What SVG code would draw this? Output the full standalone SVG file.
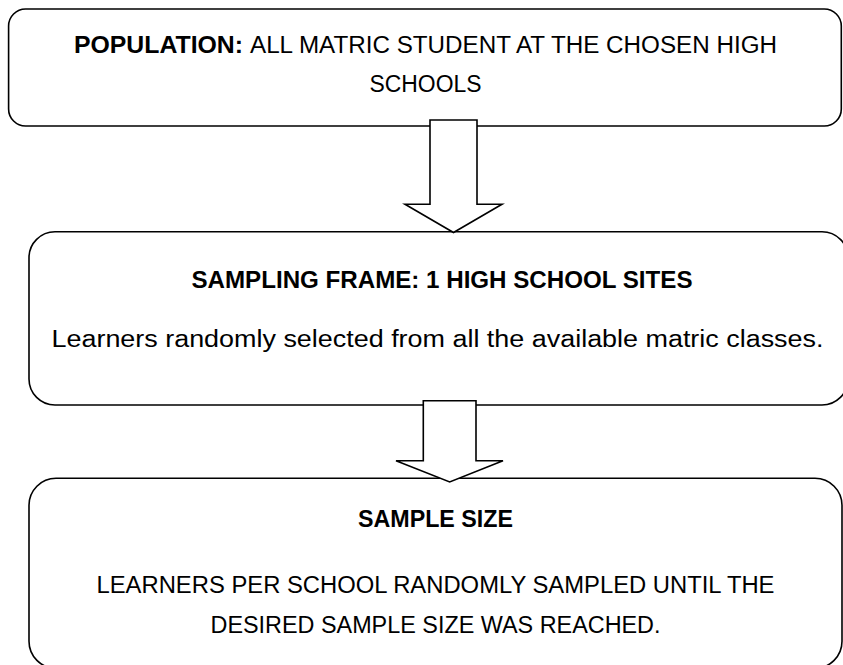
<svg xmlns="http://www.w3.org/2000/svg" width="843" height="665" viewBox="0 0 843 665">
<style>
.box{fill:#fff;stroke:#000;stroke-width:1.6}
.arrow{fill:#fff;stroke:#000;stroke-width:1.6;stroke-linejoin:miter}
text{font-family:"Liberation Sans",Arial,sans-serif;font-size:23.5px;fill:#000}
.b{font-weight:bold}
.c{text-anchor:middle}
</style>
<rect width="843" height="665" fill="#fff"/>
<g id="node-population">
<rect class="box" x="8.6" y="9" width="832.7" height="117" rx="17" ry="17"/>
<text class="b" x="74" y="53" textLength="169" lengthAdjust="spacingAndGlyphs">POPULATION:</text>
<text x="250" y="53" textLength="527" lengthAdjust="spacingAndGlyphs">ALL MATRIC STUDENT AT THE CHOSEN HIGH</text>
<text class="c" x="425.5" y="92" textLength="112" lengthAdjust="spacingAndGlyphs">SCHOOLS</text>
</g>
<g id="node-sampling-frame">
<rect class="box" x="29" y="231.7" width="819" height="173.3" rx="26" ry="26"/>
<text class="b c" x="442" y="288" textLength="501" lengthAdjust="spacingAndGlyphs">SAMPLING FRAME: 1 HIGH SCHOOL SITES</text>
<text class="c" x="437.5" y="347" textLength="772" lengthAdjust="spacingAndGlyphs">Learners randomly selected from all the available matric classes.</text>
</g>
<g id="node-sample-size">
<rect class="box" x="29" y="478.3" width="813" height="190" rx="27" ry="27"/>
<text class="b c" x="435.5" y="527" textLength="155" lengthAdjust="spacingAndGlyphs">SAMPLE SIZE</text>
<text class="c" x="435.5" y="593" textLength="678" lengthAdjust="spacingAndGlyphs">LEARNERS PER SCHOOL RANDOMLY SAMPLED UNTIL THE</text>
<text class="c" x="435.5" y="633" textLength="450" lengthAdjust="spacingAndGlyphs">DESIRED SAMPLE SIZE WAS REACHED.</text>
</g>
<g id="connectors">
<path class="arrow" d="M430,120 H477 V204.3 H502 L453.5,232.5 L405,204.3 H430 Z"/>
<path class="arrow" d="M423.3,400.7 H476 V460.7 H503 L449.7,482 L396,460.7 H423.3 Z"/>
</g>
</svg>
